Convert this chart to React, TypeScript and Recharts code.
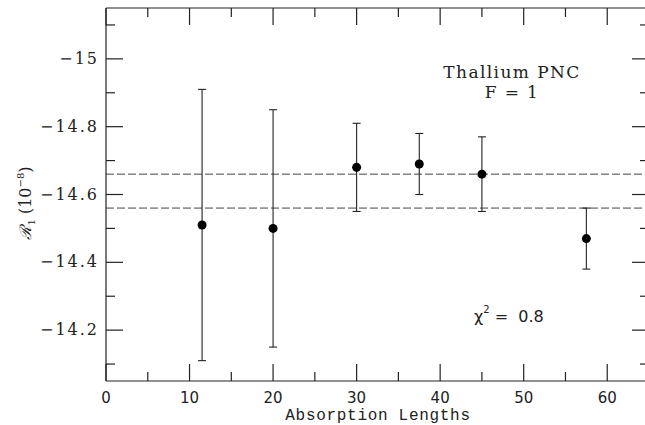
import { ScatterChart, Scatter, XAxis, YAxis, ErrorBar, ReferenceLine } from 'recharts';

// measurements: absorption length vs R1 (units of 1e-8)
const absorptionLengths = [11.5, 20, 30, 37.5, 45, 57.5];
const r1Values = [-14.51, -14.5, -14.68, -14.69, -14.66, -14.47];
const r1Lower = [-14.91, -14.85, -14.81, -14.78, -14.77, -14.56];
const r1Upper = [-14.11, -14.15, -14.55, -14.6, -14.55, -14.38];

// 1-sigma band of the mean
const bandLines = [-14.66, -14.56];

const xTicks = [0, 5, 10, 15, 20, 25, 30, 35, 40, 45, 50, 55, 60];
const xLabelled = [0, 10, 20, 30, 40, 50, 60];
const yTicks = [-15.1, -15, -14.9, -14.8, -14.7, -14.6, -14.5, -14.4, -14.3, -14.2, -14.1];
const yLabelled = [-15, -14.8, -14.6, -14.4, -14.2];

const data = absorptionLengths.map((x, i) => ({
  x,
  y: r1Values[i],
  err: [r1Values[i] - r1Lower[i], r1Upper[i] - r1Values[i]],
}));

const INK = '#222';
const MAJOR = 17;
const MINOR = 9;
const SERIF = '"DejaVu Serif", serif';
const SANS = '"DejaVu Sans", sans-serif';

const isMajorX = (v: number) => xLabelled.includes(v);
const isMajorY = (v: number) => yLabelled.some((t) => Math.abs(t - v) < 1e-6);

function BottomTick({ x, y, payload }: any) {
  const v = payload.value;
  const len = isMajorX(v) ? MAJOR : MINOR;
  return (
    <g>
      <line x1={x} y1={y} x2={x} y2={y - len} stroke={INK} strokeWidth={1.2} />
      {isMajorX(v) && (
        <text x={x} y={y + 22} textAnchor="middle" fontFamily={SANS} fontSize={15} fill={INK}>
          {v}
        </text>
      )}
    </g>
  );
}

function TopTick({ x, y, payload }: any) {
  const len = isMajorX(payload.value) ? MAJOR : MINOR;
  return <line x1={x} y1={y} x2={x} y2={y + len} stroke={INK} strokeWidth={1.2} />;
}

function LeftTick({ x, y, payload }: any) {
  const v = payload.value;
  const major = isMajorY(v);
  return (
    <g>
      <line x1={x} y1={y} x2={x + (major ? MAJOR : MINOR)} y2={y} stroke={INK} strokeWidth={1.2} />
      {major && (
        <text x={x - 7} y={y + 5} textAnchor="end" fontFamily={SERIF} fontSize={16} letterSpacing={2} fill={INK}>
          {'\u2212' + Math.abs(v)}
        </text>
      )}
    </g>
  );
}

function RightTick({ x, y, payload }: any) {
  const len = isMajorY(payload.value) ? MAJOR : MINOR;
  return <line x1={x} y1={y} x2={x - len} y2={y} stroke={INK} strokeWidth={1.2} />;
}

export default function App() {
  const axisLine = { stroke: INK, strokeWidth: 1.2 };
  return (
    <div style={{ position: 'absolute', left: 0, top: 0, width: 645, height: 425, overflow: 'hidden', background: '#fff' }}>
      <ScatterChart width={650} height={425} margin={{ top: 7, right: 0, bottom: 0, left: 46 }}>
        <XAxis
          xAxisId="b"
          dataKey="x"
          type="number"
          domain={[0, 65]}
          ticks={xTicks}
          interval={0}
          height={44}
          tickSize={0}
          tickMargin={0}
          axisLine={axisLine}
          tick={<BottomTick />}
        />
        <XAxis
          xAxisId="t"
          dataKey="x"
          orientation="top"
          type="number"
          domain={[0, 65]}
          ticks={xTicks}
          interval={0}
          height={1}
          tickSize={0}
          tickMargin={0}
          axisLine={axisLine}
          tick={<TopTick />}
        />
        <YAxis
          yAxisId="l"
          dataKey="y"
          type="number"
          domain={[-15.15, -14.05]}
          reversed
          ticks={yTicks}
          interval={0}
          width={60}
          tickSize={0}
          tickMargin={0}
          axisLine={axisLine}
          tick={<LeftTick />}
        />
        <YAxis
          yAxisId="r"
          dataKey="y"
          orientation="right"
          type="number"
          domain={[-15.15, -14.05]}
          reversed
          ticks={yTicks}
          interval={0}
          width={1}
          tickSize={0}
          tickMargin={0}
          axisLine={false}
          tick={<RightTick />}
        />
        {bandLines.map((v) => (
          <ReferenceLine
            key={v}
            xAxisId="b"
            yAxisId="l"
            y={v}
            stroke="#444"
            strokeWidth={1}
            strokeDasharray="8 3"
          />
        ))}
        {/* invisible copy so the frame axes (top / right) get a domain */}
        <Scatter xAxisId="t" yAxisId="r" data={data} fill="none" shape={() => null} isAnimationActive={false} />
        <Scatter xAxisId="b" yAxisId="l" data={data} fill="#000" isAnimationActive={false}>
          <ErrorBar dataKey="err" direction="y" width={4} stroke={INK} strokeWidth={1.1} isAnimationActive={false} />
        </Scatter>
      </ScatterChart>
      <svg width={645} height={425} style={{ position: 'absolute', left: 0, top: 0, pointerEvents: 'none' }}>
        <text x={512} y={78} textAnchor="middle" fontFamily={SERIF} fontSize={17} letterSpacing={1.4} fill={INK}>
          Thallium PNC
        </text>
        <text x={512} y={98} textAnchor="middle" fontFamily={SERIF} fontSize={17} letterSpacing={1.4} fill={INK}>
          {'F\u00a0=\u00a01'}
        </text>
        <text x={474} y={322} fontFamily={SANS} fontSize={16} fill={INK}>
          χ
          <tspan fontSize={10} dy={-9}>2</tspan>
          <tspan dy={9}>{'\u00a0=\u00a0\u00a00.8'}</tspan>
        </text>
        <text
          x={378}
          y={420}
          textAnchor="middle"
          fontFamily='"Liberation Mono", monospace'
          fontSize={16}
          letterSpacing={0.7}
          fill={INK}
        >
          Absorption Lengths
        </text>
        <text
          transform="translate(31, 203) rotate(-90)"
          textAnchor="middle"
          fontFamily={SERIF}
          fontSize={16}
          fill={INK}
        >
          <tspan fontStyle="italic">ℛ</tspan>
          <tspan fontSize={10} dy={4}>1</tspan>
          <tspan dy={-4}>{'\u00a0(10'}</tspan>
          <tspan fontSize={10} dy={-7}>−8</tspan>
          <tspan dy={7}>)</tspan>
        </text>
      </svg>
    </div>
  );
}
